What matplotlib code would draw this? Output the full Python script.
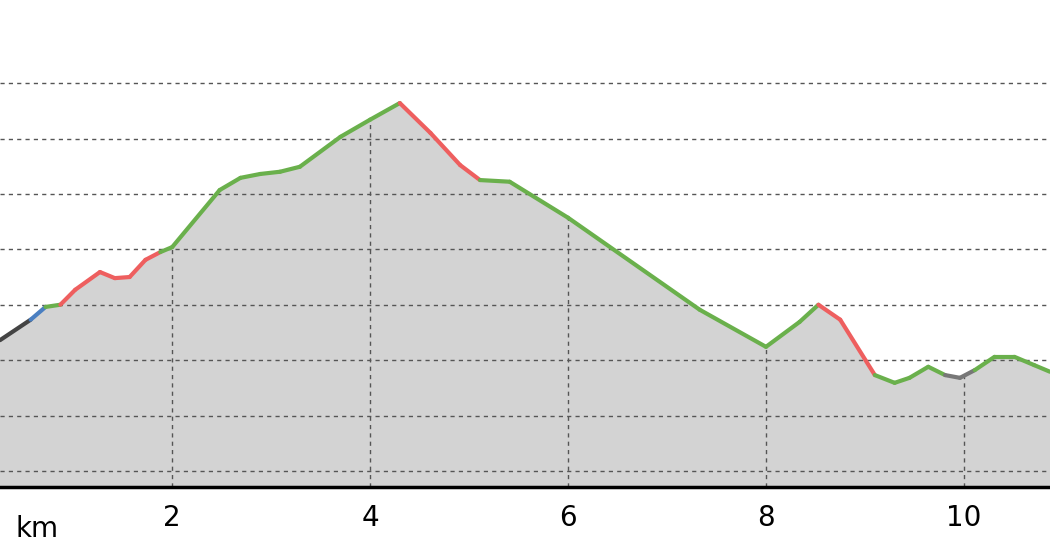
import numpy as np
import matplotlib.pyplot as plt

# distance (km) and elevation (grid units)
km = [0.26, 0.57, 0.72, 0.87, 1.02, 1.27, 1.42, 1.57, 1.73, 1.88, 2.0, 2.48, 2.69, 2.89,
      3.09, 3.29, 3.70, 4.0, 4.3, 4.61, 4.91, 5.11, 5.41, 6.0, 7.33, 8.0, 8.34, 8.53,
      8.75, 9.1, 9.3, 9.45, 9.64, 9.81, 9.96, 10.11, 10.31, 10.51, 10.71, 10.87]
elev = [2.36, 2.73, 2.96, 3.0, 3.27, 3.59, 3.48, 3.5, 3.81, 3.95, 4.04, 5.07, 5.29, 5.36,
        5.4, 5.49, 6.03, 6.34, 6.64, 6.1, 5.52, 5.25, 5.22, 4.57, 2.91, 2.24, 2.69, 3.0,
        2.73, 1.73, 1.59, 1.68, 1.88, 1.73, 1.68, 1.82, 2.06, 2.06, 1.91, 1.79]
# colour class of each segment between consecutive points
seg = ['k', 'b', 'g', 'r', 'r', 'r', 'r', 'r', 'r', 'g', 'g', 'g', 'g', 'g', 'g', 'g',
       'g', 'g', 'r', 'r', 'r', 'g', 'g', 'g', 'g', 'g', 'g', 'r', 'r', 'g', 'g', 'g',
       'g', 'y', 'y', 'g', 'g', 'g', 'g']
colors = {'k': '#444444', 'b': '#4a7fc1', 'g': '#6ab04c', 'r': '#ee5f5f', 'y': '#777777'}
ticks = [2, 4, 6, 8, 10]

fig = plt.figure(figsize=(10.5, 5.6), dpi=100)
ax = fig.add_axes([0, 73 / 560, 1, 487 / 560])
ax.set_xlim(0.26, 10.87)
ax.set_ylim(-0.29, 8.5)

ax.fill_between(km, elev, -0.29, color='#d3d3d3', zorder=1)
for gy in range(8):
    ax.axhline(gy, color='#555555', ls=(0, (3, 3)), lw=1, zorder=2)
for t in ticks:
    ax.vlines(t, -0.29, np.interp(t, km, elev), color='#555555', ls=(0, (3, 3)), lw=1, zorder=2)
for i, c in enumerate(seg):
    ax.plot(km[i:i + 2], elev[i:i + 2], color=colors[c], lw=3, solid_capstyle='round', zorder=3)

for s in ['top', 'left', 'right']:
    ax.spines[s].set_visible(False)
ax.spines['bottom'].set_linewidth(2.5)
ax.set_yticks([])
ax.set_xticks(ticks)
ax.set_xticklabels([str(t) for t in ticks], fontsize=20)
ax.tick_params(axis='x', length=0, pad=12)
ax.text(0.63, -0.29, 'km', fontsize=20, ha='center', va='top',
        transform=ax.transData).set_y(-0.29 - 0.5)

fig.savefig('out.png', dpi=100)
